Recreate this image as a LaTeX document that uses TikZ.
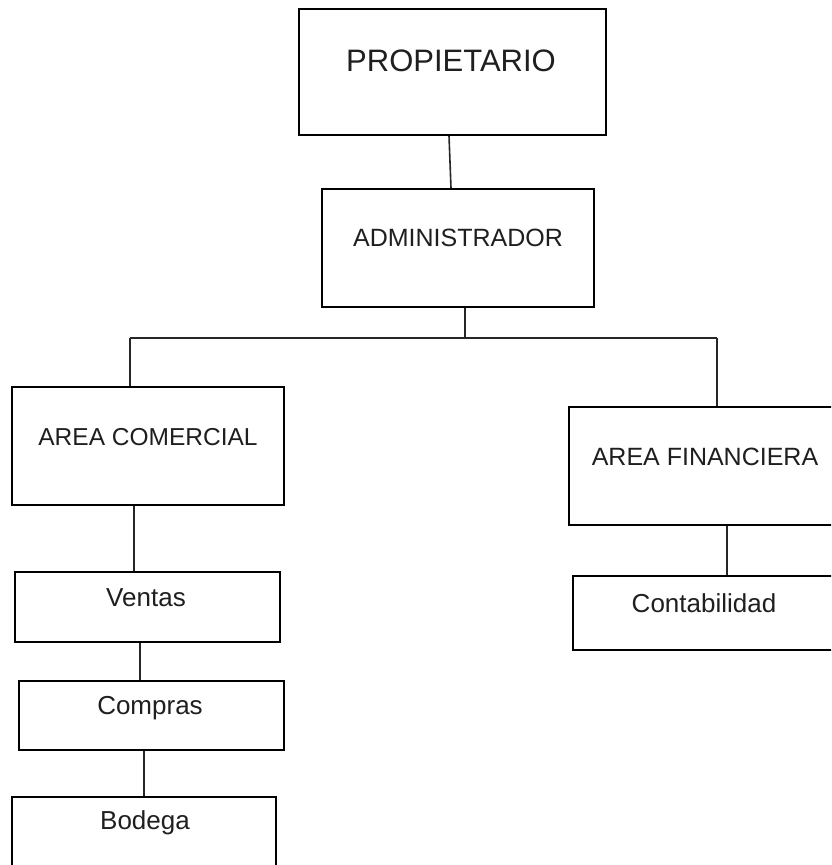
\documentclass[tikz,border=0pt]{standalone}
\usepackage{fontspec}
\setmainfont{Liberation Sans}
\begin{document}
\begin{tikzpicture}[x=1pt,y=-1pt,
  box/.style={draw=black, line width=1.6pt, rectangle, inner sep=0pt, fill=white},
  lbl/.style={inner sep=0pt, text=black!88},
  conn/.style={draw=black!85, line width=1.6pt}]
\useasboundingbox (0,0) rectangle (831,865);
\clip (0,0) rectangle (831,865);
\fill[white] (0,0) rectangle (831,865);
% boxes
\node[box, minimum width=307pt, minimum height=126pt] (prop) at (452.5,72) {};
\node[box, minimum width=272pt, minimum height=118pt] (adm) at (458,248) {};
\node[box, minimum width=272pt, minimum height=118pt] (ac) at (148,446) {};
\node[box, minimum width=268pt, minimum height=118pt] (af) at (703,466) {};
\node[box, minimum width=260pt, minimum height=74pt] (cont) at (703,613) {};
\node[box, minimum width=265pt, minimum height=70pt] (ven) at (147.5,607) {};
\node[box, minimum width=265pt, minimum height=69pt] (com) at (151.5,715.5) {};
\node[box, minimum width=264pt, minimum height=90pt] (bod) at (144,842) {};
% texts
\node[lbl, font=\fontsize{31}{37}\selectfont] (propt) at (451,61) {PROPIETARIO};
\node[lbl, font=\fontsize{25}{30}\selectfont] (admt) at (458,238) {ADMINISTRADOR};
\node[lbl, font=\fontsize{24.5}{30}\selectfont] (act) at (148,437) {AREA COMERCIAL};
\node[lbl, font=\fontsize{25}{30}\selectfont] (aft) at (705,457) {AREA FINANCIERA};
\node[lbl, font=\fontsize{26}{31}\selectfont] (contt) at (704,603) {Contabilidad};
\node[lbl, font=\fontsize{26}{31}\selectfont] (vent) at (146,598) {Ventas};
\node[lbl, font=\fontsize{26}{31}\selectfont] (comt) at (150,708) {Compras};
\node[lbl, font=\fontsize{26}{31}\selectfont] (bodt) at (145,823) {Bodega};
% connectors
\coordinate (barL) at (130,338);
\coordinate (barR) at (717,338);
\draw[conn] ([xshift=-3.5pt]prop.south) -- ([xshift=-7pt]adm.north);
\draw[conn] ([xshift=7pt]adm.south) -- ([xshift=7pt]adm.south |- barL);
\draw[conn] (barL) -- (barR);
\draw[conn] (barL) -- (barL |- ac.north);
\draw[conn] (barR) -- (barR |- af.north);
\draw[conn] ([xshift=-14pt]ac.south) -- ([xshift=-14pt]ac.south |- ven.north);
\draw[conn] ([xshift=-7.5pt]ven.south) -- ([xshift=-7.5pt]ven.south |- com.north);
\draw[conn] ([xshift=-7.5pt]com.south) -- ([xshift=-7.5pt]com.south |- bod.north);
\draw[conn] ([xshift=24pt]af.south) -- ([xshift=24pt]af.south |- cont.north);
\end{tikzpicture}
\end{document}
